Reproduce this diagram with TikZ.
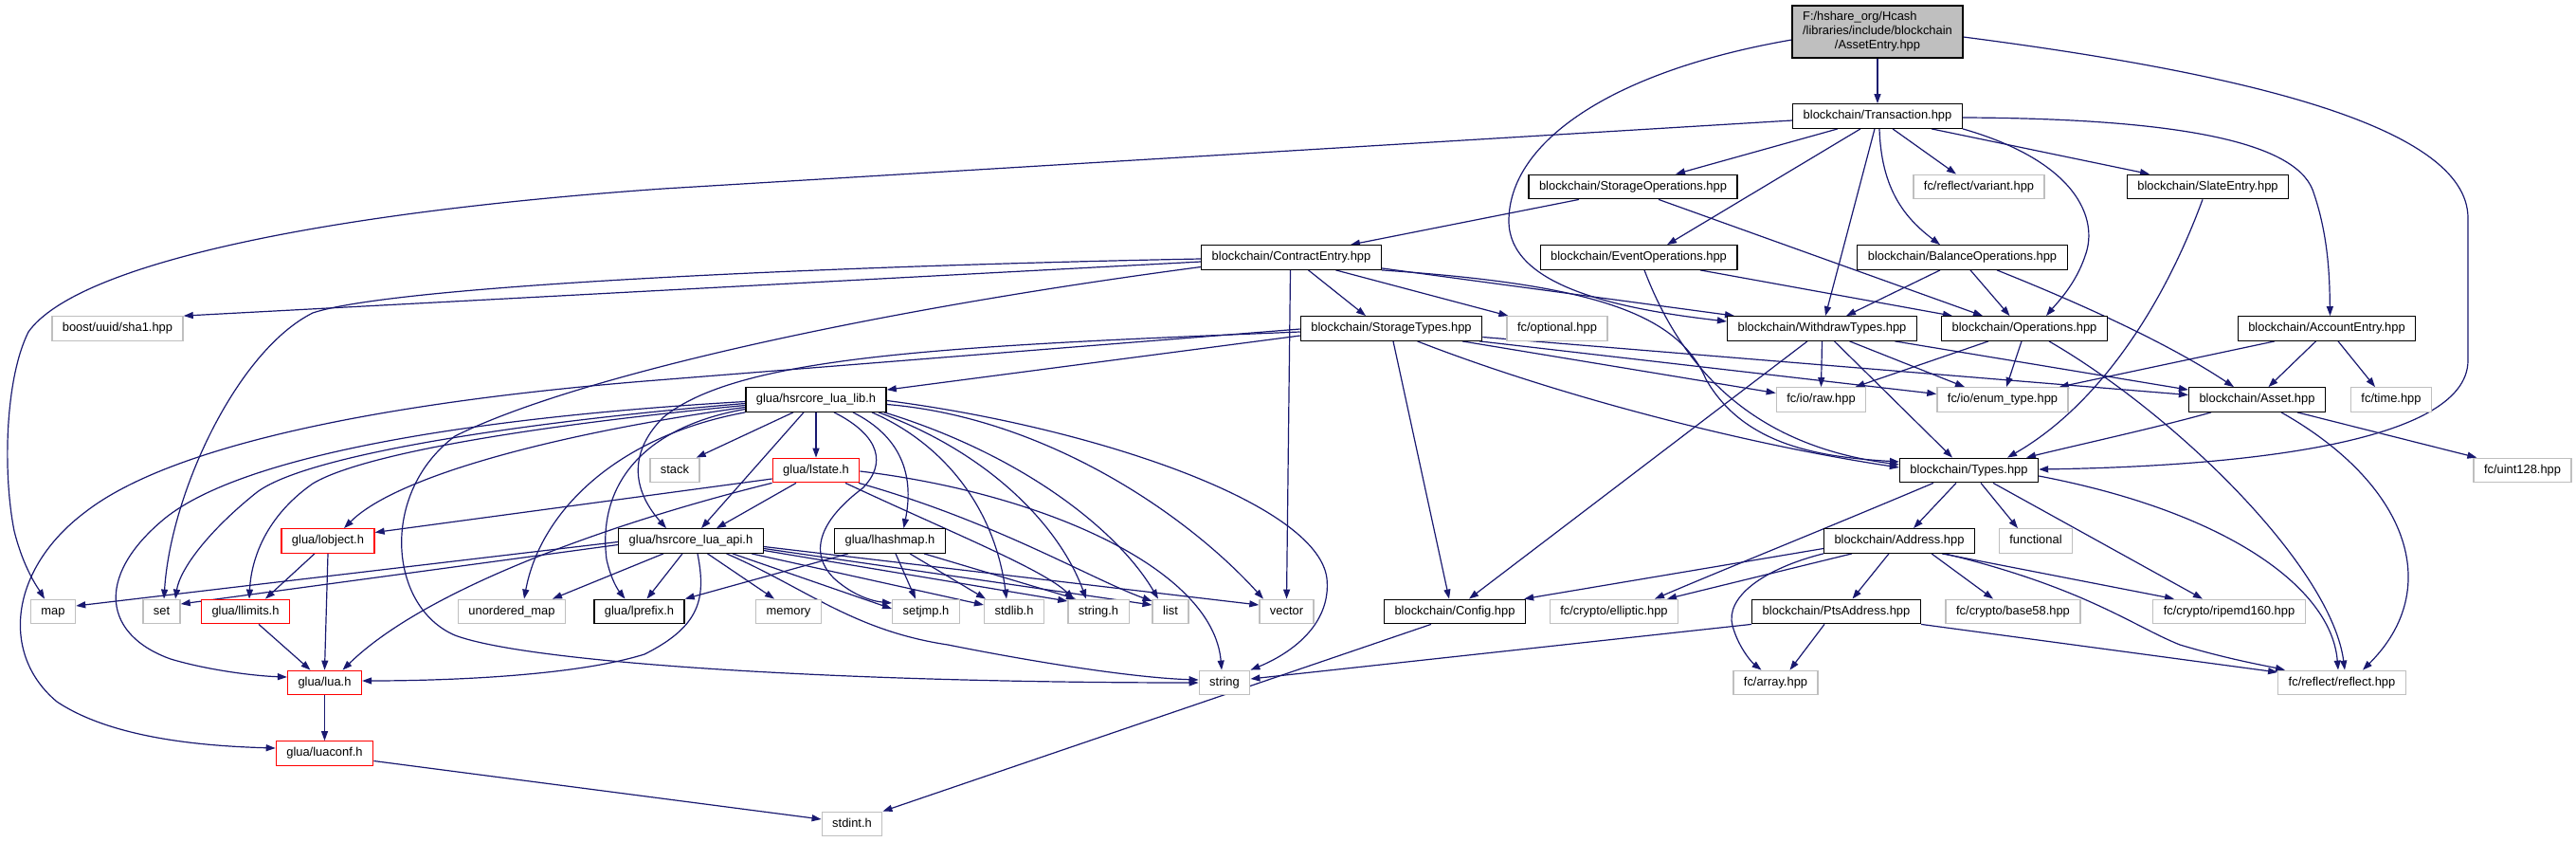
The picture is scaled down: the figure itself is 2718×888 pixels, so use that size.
\documentclass[tikz,border=0pt]{standalone}
\usepackage{fontspec}
\newfontfamily\dotfont{Liberation Sans}
\usetikzlibrary{arrows.meta}
\definecolor{edgeblue}{HTML}{191970}
\definecolor{extgray}{HTML}{BFBFBF}
\pgfdeclarelayer{bg}
\pgfsetlayers{bg,main}

\begin{document}
\begin{tikzpicture}[x=1pt,y=-1pt,font={\dotfont\fontsize{12.9pt}{14.7pt}\selectfont},
  docfile/.style={draw=black,line width=1.3pt,fill=white,inner xsep=11pt,inner ysep=0pt,minimum height=25.5pt,text height=9.3pt,text depth=2.7pt},
  extfile/.style={docfile,draw=extgray},
  cutfile/.style={docfile,draw=red},
  rootfile/.style={draw=black,line width=1.3pt,fill=extgray,inner xsep=11pt,inner ysep=3pt,minimum height=55pt},
  dep/.style={draw=edgeblue,line width=1.2pt,-{Triangle[length=10pt,width=7pt]}}]
\useasboundingbox (0,0) rectangle (2718,888);
\node[rootfile] (root) at (1981,33.5) {\begin{tabular}{@{}l@{}}F:/hshare\_org/Hcash\\/libraries/include/blockchain\\\multicolumn{1}{@{}c@{}}{/AssetEntry.hpp}\end{tabular}};
\node[docfile] (trans) at (1981,122.5) {blockchain/Transaction.hpp};
\node[docfile] (storops) at (1723,197) {blockchain/StorageOperations.hpp};
\node[extfile] (variant) at (2088,197) {fc/reflect/variant.hpp};
\node[docfile] (slate) at (2329.5,197) {blockchain/SlateEntry.hpp};
\node[docfile] (contract) at (1362.5,271.5) {blockchain/ContractEntry.hpp};
\node[docfile] (eventops) at (1729,271.5) {blockchain/EventOperations.hpp};
\node[docfile] (balops) at (2070.5,271.5) {blockchain/BalanceOperations.hpp};
\node[extfile] (sha1) at (124,346.5) {boost/uuid/sha1.hpp};
\node[docfile] (stortypes) at (1468,346.5) {blockchain/StorageTypes.hpp};
\node[extfile] (optional) at (1643,346.5) {fc/optional.hpp};
\node[docfile] (withdraw) at (1922.5,346.5) {blockchain/WithdrawTypes.hpp};
\node[docfile] (ops) at (2136,346.5) {blockchain/Operations.hpp};
\node[docfile] (account) at (2455,346.5) {blockchain/AccountEntry.hpp};
\node[docfile] (lualib) at (861,421.5) {glua/hsrcore\_lua\_lib.h};
\node[extfile] (raw) at (1921.5,421.5) {fc/io/raw.hpp};
\node[extfile] (enumtype) at (2113,421.5) {fc/io/enum\_type.hpp};
\node[docfile] (asset) at (2381.5,421.5) {blockchain/Asset.hpp};
\node[extfile] (time) at (2523,421.5) {fc/time.hpp};
\node[extfile] (stack) at (712,496) {stack};
\node[cutfile] (lstate) at (861,496) {glua/lstate.h};
\node[docfile] (types) at (2077.5,496) {blockchain/Types.hpp};
\node[extfile] (uint128) at (2661.5,496) {fc/uint128.hpp};
\node[cutfile] (lobject) at (346,570.5) {glua/lobject.h};
\node[docfile] (luaapi) at (729,570.5) {glua/hsrcore\_lua\_api.h};
\node[docfile] (lhashmap) at (939,570.5) {glua/lhashmap.h};
\node[docfile] (address) at (2004,570.5) {blockchain/Address.hpp};
\node[extfile] (functional) at (2148,570.5) {functional};
\node[extfile] (map) at (56,645) {map};
\node[extfile] (set) at (170.5,645) {set};
\node[cutfile] (llimits) at (259,645) {glua/llimits.h};
\node[extfile] (umap) at (540,645) {unordered\_map};
\node[docfile] (lprefix) at (674.5,645) {glua/lprefix.h};
\node[extfile] (memory) at (832,645) {memory};
\node[extfile] (setjmp) at (977,645) {setjmp.h};
\node[extfile] (stdlib) at (1070,645) {stdlib.h};
\node[extfile] (stringh) at (1159,645) {string.h};
\node[extfile] (list) at (1235,645) {list};
\node[extfile] (vector) at (1357.5,645) {vector};
\node[docfile] (config) at (1535,645) {blockchain/Config.hpp};
\node[extfile] (elliptic) at (1703,645) {fc/crypto/elliptic.hpp};
\node[docfile] (pts) at (1937.5,645) {blockchain/PtsAddress.hpp};
\node[extfile] (base58) at (2124,645) {fc/crypto/base58.hpp};
\node[extfile] (ripemd) at (2352,645) {fc/crypto/ripemd160.hpp};
\node[cutfile] (luah) at (342.5,720) {glua/lua.h};
\node[extfile] (string) at (1292,720) {string};
\node[extfile] (array) at (1873.5,720) {fc/array.hpp};
\node[extfile] (reflect) at (2471,720) {fc/reflect/reflect.hpp};
\node[cutfile] (luaconf) at (342.5,794.5) {glua/luaconf.h};
\node[extfile] (stdint) at (899,869) {stdint.h};
\begin{pgfonlayer}{bg}
\fill[white] (0,0) rectangle (2718,888);
\draw[dep] (root.south) -- (trans.north);
\draw[dep] ([yshift=-8.5]root.west) .. controls (1700,75) and (1592,150) .. (1592,233) .. controls (1592,300) and (1700,325) .. ([yshift=7.5]withdraw.west);
\draw[dep] ([yshift=-5.5]root.east) .. controls (2350,75) and (2604,130) .. (2604,230) -- (2604,380) .. controls (2604,470) and (2350,492) .. ([yshift=1]types.east);
\draw[dep] ([yshift=-4.5]trans.west) -- (700,199) .. controls (330,225) and (80,280) .. (30,350) .. controls (5,400) and (3,500) .. (15,560) .. controls (25,600) and (40,620) .. ([xshift=-9]map.north);
\draw[dep] ([xshift=-42]trans.south) -- ([xshift=45]storops.north);
\draw[dep] ([xshift=-18]trans.south) -- ([xshift=30]eventops.north);
\draw[dep] ([xshift=-3]trans.south) -- ([xshift=3.5]withdraw.north);
\draw[dep] ([xshift=16]trans.south) -- ([xshift=-24]variant.north);
\draw[dep] ([xshift=2]trans.south) .. controls (1985,200) and (2010,230) .. ([xshift=-23.5]balops.north);
\draw[dep] (trans.south east) .. controls (2190,170) and (2215,230) .. (2200,270) .. controls (2190,300) and (2170,320) .. ([xshift=23]ops.north);
\draw[dep] ([xshift=57]trans.south) -- ([xshift=-61.5]slate.north);
\draw[dep] ([yshift=-1.5]trans.east) .. controls (2300,125) and (2420,150) .. (2440,200) .. controls (2458,250) and (2458,300) .. ([xshift=3.5]account.north);
\draw[dep] ([xshift=-57]storops.south) -- ([xshift=62.5]contract.north);
\draw[dep] ([xshift=27]storops.south) -- ([xshift=-44]ops.north);
\draw[dep] ([xshift=65]eventops.south) -- ([xshift=-76]ops.north);
\draw[dep] ([xshift=6]eventops.south) .. controls (1775,390) and (1850,470) .. ([yshift=6]types.west);
\draw[dep] ([yshift=-4.5]contract.west) -- (sha1.north east);
\draw[dep] ([yshift=-1.5]contract.west) .. controls (900,280) and (420,300) .. (330,330) .. controls (250,370) and (180,520) .. ([xshift=2.5]set.north);
\draw[dep] ([xshift=18]contract.south) -- ([xshift=-27]stortypes.north);
\draw[dep] ([xshift=47]contract.south) -- ([xshift=2]optional.north west);
\draw[dep] ([yshift=2]contract.south east) -- ([xshift=-92.5]withdraw.north);
\draw[dep] (contract.south east) .. controls (1680,300) and (1770,330) .. (1800,400) .. controls (1840,470) and (1920,482) .. ([yshift=9]types.west);
\draw[dep] ([xshift=-1]contract.south) -- (vector.north);
\draw[dep] ([yshift=-10]contract.west) .. controls (900,330) and (600,400) .. (480,460) .. controls (400,520) and (410,640) .. (480,670) .. controls (560,700) and (900,720) .. (string.west);
\draw[dep] ([yshift=-7.5]stortypes.west) -- ([yshift=-3]lualib.north east);
\draw[dep] ([yshift=-3.5]stortypes.west) .. controls (1000,365) and (780,375) .. (700,440) .. controls (660,480) and (670,520) .. ([xshift=-26]luaapi.north);
\draw[dep] ([yshift=-0.5]stortypes.west) -- (680,402) .. controls (400,425) and (180,470) .. (90,540) .. controls (10,600) and (0,690) .. (60,740) .. controls (120,780) and (220,787) .. ([yshift=5.5]luaconf.west);
\draw[dep] ([xshift=75]stortypes.south) -- ([yshift=7]raw.west);
\draw[dep] ([xshift=-3]stortypes.south east) -- ([yshift=6]enumtype.west);
\draw[dep] ([yshift=-9]stortypes.east) -- ([yshift=5]asset.west);
\draw[dep] ([xshift=27.5]stortypes.south) .. controls (1650,420) and (1850,470) .. ([yshift=3]types.west);
\draw[dep] ([xshift=2]stortypes.south) -- ([xshift=-6]config.north);
\draw[dep] (withdraw.south) -- (raw.north);
\draw[dep] ([xshift=29]withdraw.south) -- ([xshift=-40]enumtype.north);
\draw[dep] ([xshift=13]withdraw.south) -- ([xshift=-17.5]types.north);
\draw[dep] ([xshift=-15.5]withdraw.south) -- ([xshift=15]config.north);
\draw[dep] ([xshift=77]withdraw.south) -- ([yshift=-3]asset.north west);
\draw[dep] ([xshift=-38]ops.south) -- ([xshift=36]raw.north);
\draw[dep] ([xshift=-3]ops.south) -- ([xshift=4]enumtype.north);
\draw[dep] ([xshift=26]ops.south) .. controls (2300,440) and (2460,600) .. ([xshift=3]reflect.north);
\draw[dep] ([xshift=-23.5]balops.south) -- ([xshift=25.5]withdraw.north);
\draw[dep] ([xshift=8.5]balops.south) -- ([xshift=-15.5]ops.north);
\draw[dep] ([xshift=36.5]balops.south) .. controls (2220,330) and (2300,370) .. ([xshift=-24.5]asset.north);
\draw[dep] ([xshift=-55]account.south) -- ([xshift=-10]enumtype.north east);
\draw[dep] ([xshift=-11.5]account.south) -- ([xshift=12]asset.north);
\draw[dep] ([xshift=12]account.south) -- ([xshift=-17]time.north);
\draw[dep] ([xshift=-48.5]asset.south) .. controls (2280,450) and (2180,472) .. ([xshift=60.5]types.north);
\draw[dep] ([xshift=42.5]asset.south) -- ([xshift=4]uint128.north west);
\draw[dep] ([xshift=25.5]asset.south) .. controls (2540,510) and (2580,620) .. ([xshift=22]reflect.north);
\draw[dep] ([xshift=-5.5]slate.south) .. controls (2280,330) and (2210,430) .. ([xshift=40.5]types.north);
\draw[dep] ([xshift=-13.5]types.south) -- ([xshift=15]address.north);
\draw[dep] ([xshift=12.5]types.south) -- ([xshift=-19]functional.north);
\draw[dep] ([xshift=25.5]types.south) -- ([xshift=-28]ripemd.north);
\draw[dep] ([yshift=-6]types.east) .. controls (2350,540) and (2460,620) .. ([xshift=-4]reflect.north);
\draw[dep] ([xshift=-37.5]types.south) .. controls (1920,560) and (1820,600) .. ([xshift=43]elliptic.north);
\draw[dep] ([yshift=-8]address.west) -- ([xshift=-2]config.north east);
\draw[dep] ([xshift=-50]address.south) -- ([xshift=56]elliptic.north);
\draw[dep] (address.south west) .. controls (1860,600) and (1820,630) .. (1828,660) .. controls (1835,685) and (1850,700) .. ([xshift=-15]array.north);
\draw[dep] ([xshift=-11]address.south) -- ([xshift=17]pts.north);
\draw[dep] ([xshift=34]address.south) -- ([xshift=-21]base58.north);
\draw[dep] ([xshift=45]address.south) -- ([xshift=-58]ripemd.north);
\draw[dep] ([xshift=48]address.south) .. controls (2200,620) and (2250,660) .. (2300,680) .. controls (2350,695) and (2390,702) .. ([xshift=-60]reflect.north);
\draw[dep] ([xshift=-12.5]pts.south) -- ([xshift=15]array.north);
\draw[dep] (pts.south west) -- ([yshift=4]string.east);
\draw[dep] (pts.south east) -- ([yshift=11]reflect.west);
\draw[dep] ([xshift=-25]config.south) -- (stdint.north east);
\draw[dep] ([yshift=-8]luaconf.east) -- ([yshift=5]stdint.west);
\draw[dep] (luah.south) -- (luaconf.north);
\draw[dep] ([xshift=-14]lobject.south) -- ([xshift=21]llimits.north);
\draw[dep] (lobject.south) -- (luah.north);
\draw[dep] ([xshift=14]llimits.south) -- ([xshift=-15]luah.north);
\draw[dep] ([yshift=-2]lualib.west) .. controls (500,440) and (250,480) .. (170,550) .. controls (100,610) and (110,670) .. (180,695) .. controls (220,707) and (270,713) .. ([yshift=6]luah.west);
\draw[dep] ([yshift=-4]lualib.west) .. controls (550,445) and (320,480) .. (270,520) .. controls (220,560) and (190,600) .. ([xshift=14.5]set.north);
\draw[dep] ([yshift=-6]lualib.west) .. controls (550,450) and (380,480) .. (330,510) .. controls (280,545) and (265,590) .. ([xshift=4]llimits.north);
\draw[dep] ([yshift=-8]lualib.west) .. controls (600,455) and (420,500) .. ([xshift=17]lobject.north);
\draw[dep] ([yshift=-10]lualib.west) .. controls (680,450) and (630,510) .. (640,590) .. controls (645,612) and (652,622) .. ([xshift=-15]lprefix.north);
\draw[dep] (lualib.south west) .. controls (650,460) and (570,540) .. ([xshift=13]umap.north);
\draw[dep] ([xshift=-24]lualib.south) -- ([xshift=-4]stack.north east);
\draw[dep] (lualib.south) -- (lstate.north);
\draw[dep] ([xshift=-13]lualib.south) -- ([xshift=11]luaapi.north);
\draw[dep] ([xshift=19]lualib.south) .. controls (930,460) and (935,490) .. (910,515) .. controls (870,545) and (850,580) .. (880,610) .. controls (900,628) and (920,634) .. ([yshift=9]setjmp.west);
\draw[dep] ([xshift=39]lualib.south) .. controls (950,460) and (965,500) .. ([xshift=14.5]lhashmap.north);
\draw[dep] ([xshift=59]lualib.south) .. controls (1000,470) and (1050,540) .. ([xshift=-8]stdlib.north);
\draw[dep] ([xshift=66]lualib.south) .. controls (1050,480) and (1120,560) .. ([xshift=-13]stringh.north);
\draw[dep] ([xshift=72]lualib.south) .. controls (1080,480) and (1180,560) .. ([xshift=-13]list.north);
\draw[dep] ([yshift=-5]lualib.east) .. controls (1100,440) and (1250,540) .. ([xshift=-24.5]vector.north);
\draw[dep] ([yshift=-1]lualib.east) .. controls (1150,450) and (1390,530) .. (1400,610) .. controls (1405,660) and (1360,690) .. (string.north east);
\draw[dep] ([yshift=-9]lstate.west) -- ([yshift=9]lobject.east);
\draw[dep] (lstate.south west) .. controls (650,550) and (450,620) .. ([xshift=19]luah.north);
\draw[dep] ([xshift=-21]lstate.south) -- ([xshift=27]luaapi.north);
\draw[dep] ([xshift=31]lstate.south) .. controls (1000,560) and (1100,600) .. ([xshift=-26]stringh.north);
\draw[dep] ([xshift=45]lstate.south) .. controls (1050,550) and (1150,610) .. ([yshift=11]list.west);
\draw[dep] ([yshift=-1]lstate.east) .. controls (1100,520) and (1280,600) .. ([xshift=-3]string.north);
\draw[dep] ([yshift=-1]luaapi.west) -- ([yshift=6]map.east);
\draw[dep] ([yshift=-4]luaapi.west) -- ([yshift=8]set.east);
\draw[dep] ([xshift=7]luaapi.south) .. controls (745,630) and (740,660) .. (680,690) .. controls (600,715) and (450,718) .. ([yshift=2]luah.east);
\draw[dep] ([xshift=-29]luaapi.south) -- ([xshift=43]umap.north);
\draw[dep] ([xshift=-9]luaapi.south) -- ([xshift=8]lprefix.north);
\draw[dep] ([xshift=17.5]luaapi.south) -- ([xshift=-15]memory.north);
\draw[dep] ([xshift=44]luaapi.south) -- ([yshift=3]setjmp.west);
\draw[dep] ([xshift=64]luaapi.south) -- ([yshift=7]stdlib.west);
\draw[dep] ([yshift=-10]luaapi.east) -- ([yshift=11]stringh.west);
\draw[dep] ([yshift=-8]luaapi.east) -- ([yshift=7]list.west);
\draw[dep] ([yshift=-6]luaapi.east) -- ([yshift=7]vector.west);
\draw[dep] ([xshift=37.5]luaapi.south) .. controls (850,620) and (900,665) .. (1000,680) .. controls (1100,700) and (1200,715) .. ([yshift=3]string.west);
\draw[dep] ([xshift=-44]lhashmap.south) -- (lprefix.north east);
\draw[dep] ([xshift=6]lhashmap.south) -- ([xshift=-11]setjmp.north);
\draw[dep] ([xshift=21]lhashmap.south) -- ([xshift=-30]stdlib.north);
\draw[dep] ([xshift=36]lhashmap.south) -- ([xshift=-24]stringh.north);
\end{pgfonlayer}
\end{tikzpicture}
\end{document}
